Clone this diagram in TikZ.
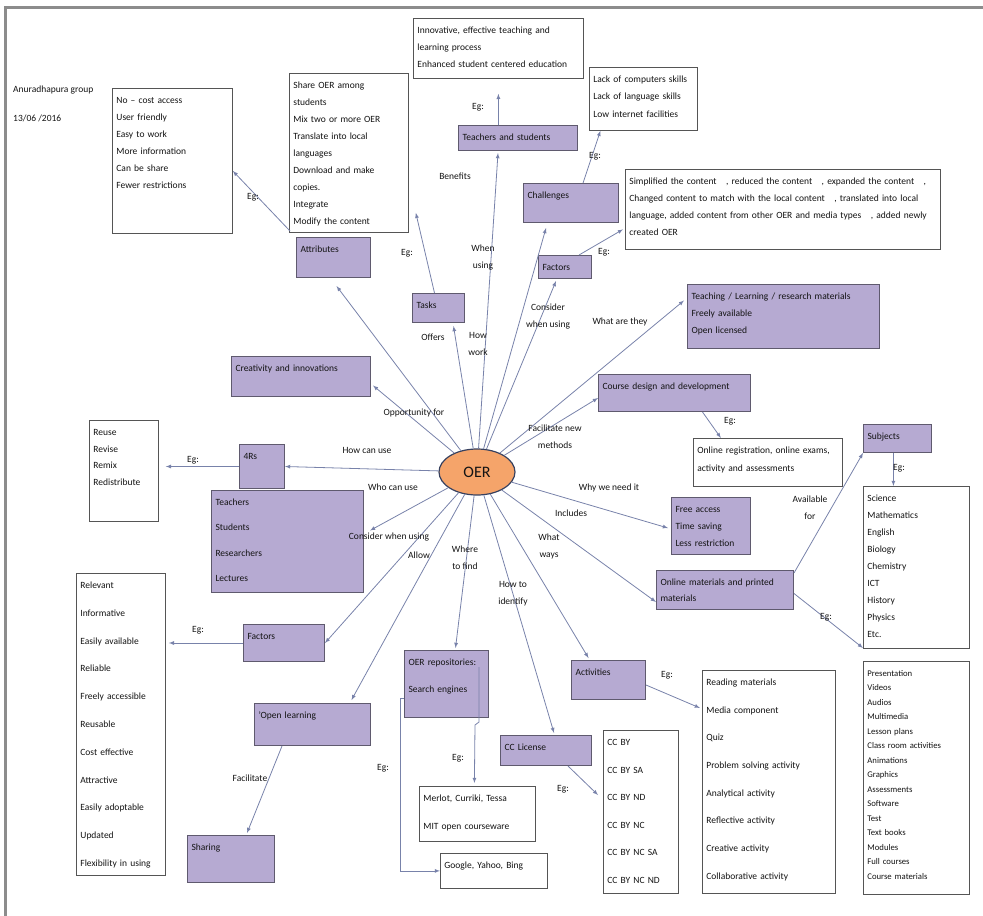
\documentclass[tikz,border=0pt]{standalone}
\usepackage{fontspec}
\setmainfont{Carlito}
\usetikzlibrary{calc,shapes.geometric}

\definecolor{oerorange}{RGB}{245,164,106}
\definecolor{oerline}{RGB}{55,65,95}
\definecolor{lilac}{RGB}{182,170,210}
\definecolor{lilacline}{RGB}{95,90,110}
\definecolor{boxline}{RGB}{85,85,85}
\definecolor{linkblue}{RGB}{120,130,170}
\definecolor{framegray}{RGB}{140,140,140}
\definecolor{inkgray}{RGB}{20,20,20}

\tikzset{
  wbox/.style={draw=boxline, fill=white, line width=0.8pt, anchor=north west, align=left,
    inner xsep=4pt, inner ysep=5pt, text height=10pt, text=inkgray,
    font=\fontsize{9.5}{#1}\selectfont},
  wbox/.default=17,
  pbox/.style={wbox=#1, fill=lilac, draw=lilacline, line width=1pt},
  pbox/.default=17,
  lbl/.style={align=center, inner sep=0pt, text=inkgray, font=\fontsize{9.5}{17}\selectfont},
  link/.style={draw=linkblue, line width=0.8pt, -latex},
}

\begin{document}
\begin{tikzpicture}[x=1pt, y=-1pt]
  \useasboundingbox (0,0) rectangle (983,916);
  \draw[framegray, line width=3pt] (5,916) -- (5,7) -- (983,7);

  % heading
  \node[lbl, anchor=west] (group) at (13,90) {Anuradhapura group};
  \node[lbl, anchor=west] (date) at (13,118) {13/06 /2016};

  % centre
  \node[ellipse, draw=oerline, fill=oerorange, line width=1.2pt, minimum width=76pt,
    minimum height=46pt, inner sep=0pt, text=inkgray, font=\fontsize{16}{18}\selectfont] (oer) at (477,472) {OER};

  % upper branches
  \node[wbox, text width=112pt, text depth=125pt] (attrEx) at (112,88)
    {No – cost access\\User friendly\\Easy to work\\More information\\Can be share\\Fewer restrictions};
  \node[wbox, text width=111pt, text depth=139pt] (taskEx) at (289,73)
    {Share OER among\\students\\Mix two or more OER\\Translate into local\\languages\\ Download and make\\copies.\\Integrate\\Modify the content};
  \node[wbox, text width=162pt, text depth=40pt] (tsEx) at (413,18)
    {Innovative, effective teaching and\\learning process\\Enhanced student centered education};
  \node[wbox=17.5, text width=100pt, text depth=43pt] (chalEx) at (589,67)
    {Lack of computers skills\\Lack of language skills\\Low internet facilities};
  \node[wbox, text width=307pt, text depth=60pt] (factEx) at (625,169)
    {Simplified the content\quad, reduced the content\quad, expanded the content\quad,\\
     Changed content to match with the local content\quad, translated into local\\
     language, added content from other OER and media types\quad, added newly\\
     created OER};

  \node[pbox, text width=66pt, text depth=20pt] (attr) at (296,237) {Attributes};
  \node[pbox, text width=44pt, text depth=9pt] (tasks) at (412,293) {Tasks};
  \node[pbox, text width=111pt, text depth=5pt] (ts) at (458,125) {Teachers and students};
  \node[pbox, text width=87pt, text depth=19pt] (chal) at (523,183) {Challenges};
  \node[pbox, text width=45pt, text depth=3pt] (fact) at (538,255) {Factors};
  \node[pbox, text width=184pt, text depth=44pt] (teach) at (687,284)
    {Teaching / Learning / research materials\\Freely available\\Open licensed};
  \node[pbox, text width=131pt, text depth=20pt] (crea) at (231,356) {Creativity and innovations};

  % right branches
  \node[pbox, text width=144pt, text depth=17pt] (course) at (598,374) {Course design and development};
  \node[wbox=18, text width=141pt, text depth=28pt] (courseEx) at (693,438)
    {Online registration, online exams,\\activity and assessments};
  \node[pbox, text width=60pt, text depth=8pt] (subj) at (863,424) {Subjects};
  \node[wbox, text width=98pt, text depth=142pt] (subjEx) at (863,486)
    {Science\\Mathematics\\English\\Biology\\Chemistry\\ICT\\History\\Physics\\Etc.};
  \node[pbox, text width=71pt, text depth=37pt] (free) at (671,497)
    {Free access\\Time saving\\Less restriction};
  \node[pbox=16, text width=129pt, text depth=19pt] (mat) at (656,570)
    {Online materials and printed\\materials};
  \node[wbox, font=\fontsize{8.7}{14.5}\selectfont, text width=98pt, text depth=213pt] (matEx) at (863,661)
    {Presentation\\Videos\\Audios\\Multimedia\\Lesson plans\\Class room activities\\Animations\\Graphics\\Assessments\\Software\\Test\\Text books\\Modules\\Full courses\\Course materials};

  % lower branches
  \node[pbox, text width=66pt, text depth=19pt] (act) at (571,660) {Activities};
  \node[wbox=27.7, text width=125pt, text depth=203pt] (actEx) at (702,670)
    {Reading materials\\Media component\\Quiz\\Problem solving activity\\Analytical activity\\Reflective activity\\Creative activity\\Collaborative activity};
  \node[pbox, text width=83pt, text depth=10pt] (cc) at (500,735) {CC License};
  \node[wbox=27.6, text width=67pt, text depth=143pt] (ccEx) at (603,730)
    {CC BY\\CC BY SA\\CC BY ND\\CC BY NC\\CC BY NC SA\\CC BY NC ND};
  \node[pbox=27, text width=76pt, text depth=47pt] (repo) at (404,650)
    {OER repositories:\\Search engines};
  \node[wbox=28, text width=108pt, text depth=35pt] (repoA) at (419,786)
    {Merlot, Curriki, Tessa\\MIT open courseware};
  \node[wbox, text width=99pt, text depth=15pt] (repoB) at (440,853) {Google, Yahoo, Bing};

  % left branches
  \node[pbox, text width=37pt, text depth=24pt] (four) at (239,444) {4Rs};
  \node[wbox=16.7, text width=61pt, text depth=81pt] (rEx) at (89,420)
    {Reuse\\Revise\\Remix\\Redistribute};
  \node[pbox=25.3, text width=144pt, text depth=82pt] (who) at (211,490)
    {Teachers\\Students\\Researchers\\Lectures};
  \node[pbox, text width=73pt, text depth=17pt] (fact2) at (243,624) {Factors};
  \node[wbox=27.8, text width=81pt, text depth=282pt] (factEx2) at (76,573)
    {Relevant\\Informative\\Easily available\\Reliable\\Freely accessible\\Reusable\\Cost effective\\Attractive\\Easily adoptable\\Updated\\Flexibility in using};
  \node[pbox, text width=108pt, text depth=22pt] (open) at (254,703) {'Open learning};
  \node[pbox, text width=79pt, text depth=27pt] (share) at (187,835) {Sharing};

  % connectors from OER
  \draw[link] (oer) -- ([xshift=3pt,yshift=-8pt]attr.south);
  \draw[link] (oer) -- ([xshift=15pt,yshift=-3pt]tasks.south);
  \draw[link] (oer) -- ([xshift=-20pt,yshift=-2pt]ts.south);
  \draw[link] (oer) -- ([xshift=-25pt,yshift=-5pt]chal.south);
  \draw[link] (oer) -- ([xshift=-9pt,yshift=-2pt]fact.south);
  \draw[link] (oer) -- ([xshift=-3pt,yshift=16pt]teach.west);
  \draw[link] (oer) -- ([yshift=-5pt]course.west);
  \draw[link] (oer) -- ([xshift=-3pt,yshift=-2pt]free.west);
  \draw[link] (oer) -- ([yshift=-12pt]mat.west);
  \draw[link] (oer) -- ([xshift=-20pt,yshift=2pt]act.north);
  \draw[link] (oer) -- ([xshift=8pt,yshift=2pt]cc.north);
  \draw[link] (oer) -- ([xshift=9pt,yshift=2pt]repo.north);
  \draw[link] (oer) -- ([xshift=39pt,yshift=3pt]open.north);
  \draw[link] (oer) -- (fact2.east);
  \draw[link] (oer) -- ([xshift=6pt,yshift=11pt]who.east);
  \draw[link] (oer) -- (four.east);
  \draw[link] (oer) -- ([xshift=2pt,yshift=-9pt]crea.east);

  % examples
  \draw[link] ([xshift=-6pt,yshift=6pt]attr.north west) -- ([yshift=-10pt]attrEx.east);
  \draw[link] ([xshift=-4pt]tasks.north) -- ([xshift=7pt,yshift=20pt]taskEx.south east);
  \draw[link] ([xshift=-19.5pt]ts.north) -- ([yshift=-15pt]tsEx.south);
  \draw[link] ([xshift=12pt]chal.north) -- ([xshift=-43pt]chalEx.south);
  \draw[link] ([xshift=-13pt]fact.north east) -- ([xshift=-2pt,yshift=-20pt]factEx.west);
  \draw[link] ([xshift=28pt]course.south) -- ([xshift=-47pt]courseEx.north);
  \draw[link] ([xshift=-4pt]subj.south) -- ([xshift=-23pt]subjEx.north);
  \draw[link] ([yshift=-3pt]mat.north east) -- (subj.south west);
  \draw[link] ([yshift=-3.5pt]mat.east) -- ([yshift=13pt]matEx.north west);
  \draw[link] ([yshift=-5pt]act.east) -- ([xshift=-2pt,yshift=-38pt]actEx.north west);
  \draw[link] ([xshift=-24pt]cc.south east) -- ([xshift=-5pt,yshift=-65pt]ccEx.north west);
  \draw[link] ([xshift=-10pt,yshift=-17pt]repo.north east) -- ++(0,55) -- ++(-4,3)
    -- ([xshift=-3pt,yshift=3pt]repoA.north);
  \draw[link] ([yshift=-14pt]repo.west) -- ++(-4,0) |- (repoB.west);
  \draw[link] (four.west) -- ($(four.west -| rEx.east)+(7,0)$);
  \draw[link] (fact2.west) -- ($(fact2.west -| factEx2.east)+(3,0)$);
  \draw[link] ([xshift=28pt]open.south west) -- ([xshift=16pt,yshift=2pt]share.north);

  % connector labels
  \node[lbl] (lEgAttr) at (253,197) {Eg:};
  \node[lbl] (lEgTasks) at (407,253) {Eg:};
  \node[lbl] (lEgTs) at (478,107) {Eg:};
  \node[lbl] (lBenefits) at (455,176) {Benefits};
  \node[lbl] (lWhen) at (483,258) {When\\using};
  \node[lbl] (lEgChal) at (595,156) {Eg:};
  \node[lbl] (lEgFact) at (604,252) {Eg:};
  \node[lbl] (lConsiderA) at (548,317) {Consider\\when using};
  \node[lbl] (lWhat) at (620,322) {What are they};
  \node[lbl] (lOffers) at (433,337) {Offers};
  \node[lbl] (lHow) at (478,344) {How\\work};
  \node[lbl] (lOpport) at (414,413) {Opportunity for};
  \node[lbl] (lHowUse) at (367,450) {How can use};
  \node[lbl] (lWho) at (393,487) {Who can use};
  \node[lbl] (lConsiderB) at (389,537) {Consider when using};
  \node[lbl] (lAllow) at (419,555) {Allow};
  \node[lbl] (lWhere) at (465,558) {Where\\to find};
  \node[lbl] (lIdentify) at (513,594) {How to\\identify};
  \node[lbl] (lWays) at (549,546) {What\\ways};
  \node[lbl] (lIncludes) at (571,513) {Includes};
  \node[lbl] (lWhy) at (609,488) {Why we need it};
  \node[lbl] (lFacNew) at (555,437) {Facilitate new\\methods};
  \node[lbl] (lEgCourse) at (730,421) {Eg:};
  \node[lbl] (lAvail) at (810,508) {Available\\for};
  \node[lbl] (lEgSubj) at (899,468) {Eg:};
  \node[lbl] (lEgMat) at (826,617) {Eg:};
  \node[lbl] (lEgAct) at (667,675) {Eg:};
  \node[lbl] (lEgCc) at (563,789) {Eg:};
  \node[lbl] (lEgRepoA) at (458,758) {Eg:};
  \node[lbl] (lEgRepoB) at (383,768) {Eg:};
  \node[lbl] (lEgFour) at (193,460) {Eg:};
  \node[lbl] (lEgFact2) at (198,630) {Eg:};
  \node[lbl] (lFacilitate) at (250,778) {Facilitate};
\end{tikzpicture}
\end{document}
